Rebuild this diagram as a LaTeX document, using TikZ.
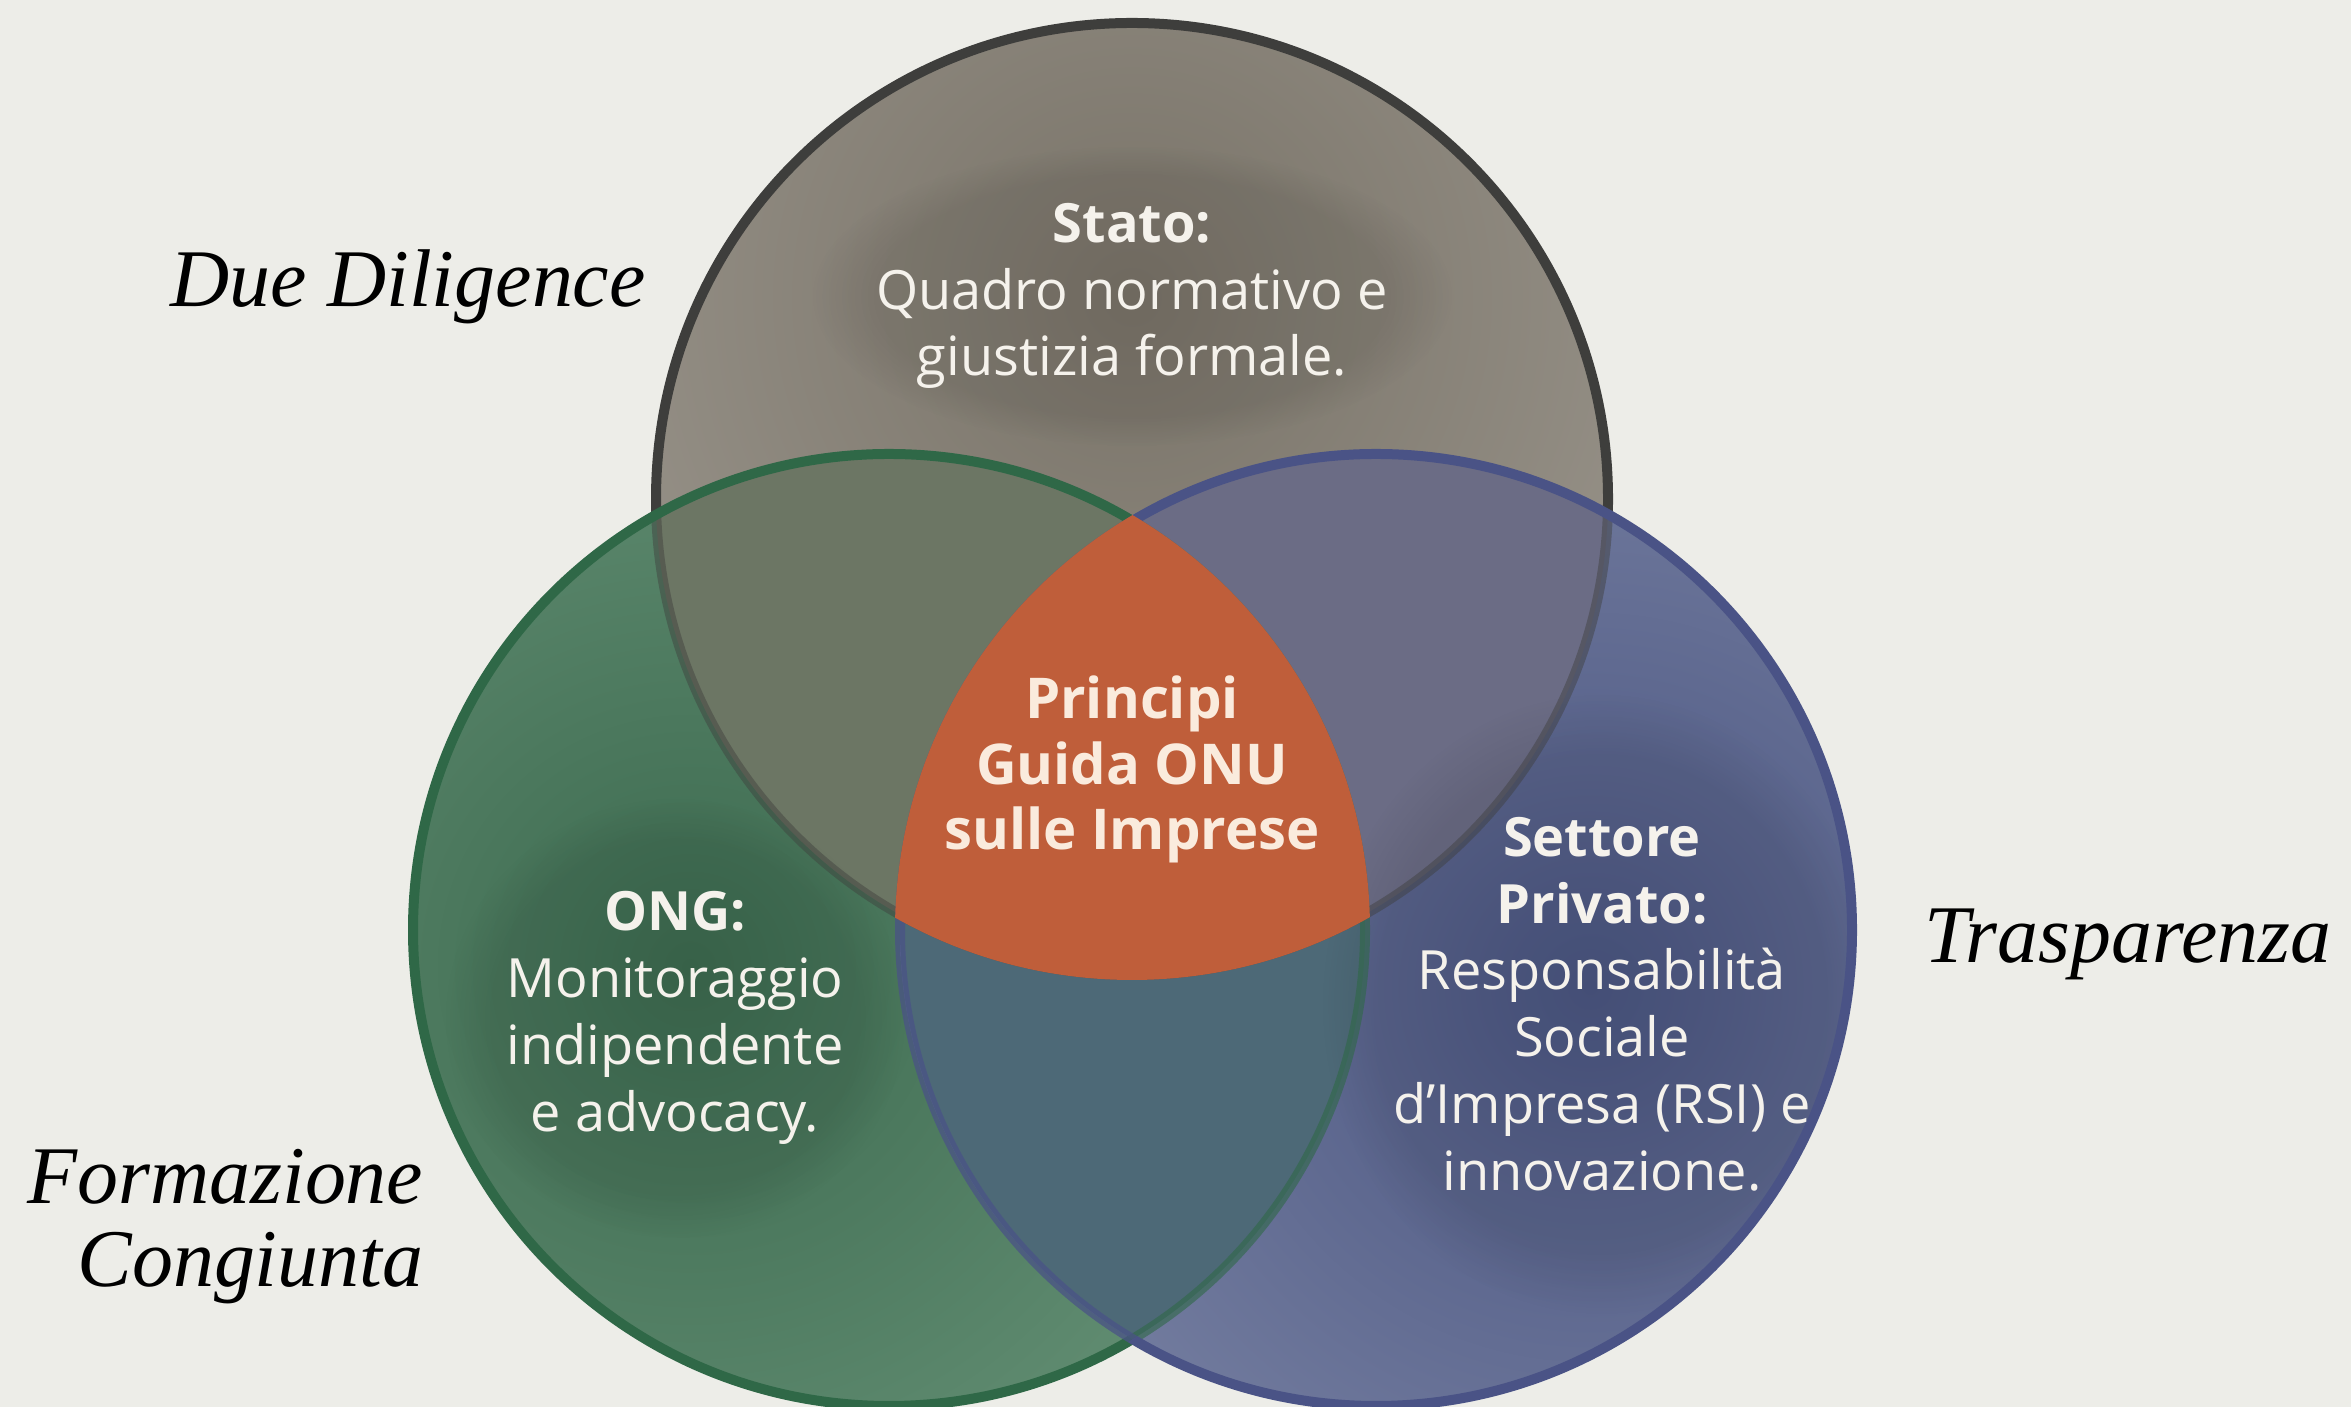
\documentclass[tikz,border=0pt]{standalone}
\usepackage{fontspec}
\usetikzlibrary{fadings}
\setmainfont{Liberation Serif}
\newfontfamily\circfont{Open Sans}
\newfontfamily\labfont{Liberation Serif}
\definecolor{bgc}{HTML}{EDEDE8}
\definecolor{topL}{HTML}{9C978E}
\definecolor{topD}{HTML}{797368}
\definecolor{greL}{HTML}{6A957A}
\definecolor{greD}{HTML}{3C6A4F}
\definecolor{bluL}{HTML}{7D86A6}
\definecolor{bluD}{HTML}{4A5581}
\definecolor{regTL}{HTML}{6C7664}
\definecolor{regTR}{HTML}{6B6C85}
\definecolor{regLR}{HTML}{4D6977}
\definecolor{regC}{HTML}{BF5E3A}
\definecolor{lineT}{HTML}{3E3E3C}
\definecolor{lineG}{HTML}{2F6847}
\definecolor{lineB}{HTML}{4A5386}
\definecolor{txtW}{HTML}{F5F2EC}
\definecolor{txtC}{HTML}{FAEBDD}
\tikzset{
  ring/.style={line width=0.1cm},
  halo/.style={fill=black, fill opacity=0.08, path fading=circle with fuzzy edge 20 percent},
  intext/.style={text=txtW, align=center, font=\circfont\fontsize{15.4}{19}\selectfont, inner sep=0pt},
  centext/.style={text=txtC, align=center, font=\circfont\bfseries\fontsize{16}{18.6}\selectfont, inner sep=0pt},
  sidelabel/.style={text=black, font=\labfont\itshape\fontsize{23.3}{23.6}\selectfont, inner sep=0pt}
}
\begin{document}
\begin{tikzpicture}
\useasboundingbox (0,0) rectangle (23.51,14.07);
\fill[bgc] (0,0) rectangle (23.51,14.07);
\coordinate (T) at (11.32,9.08);
\coordinate (L) at (8.89,4.77);
\coordinate (R) at (13.76,4.77);
\def\rad{4.76}
% base fills with soft vignette
\begin{scope}
  \clip (T) circle (\rad);
  \fill[topL] (T) circle (\rad);
  \shade[inner color=topD, outer color=topL] (11.32,11.1) circle (7);
\end{scope}
\begin{scope}
  \clip (L) circle (\rad);
  \fill[greL] (L) circle (\rad);
  \shade[inner color=greD, outer color=greL] (6.9,4.4) circle (7.5);
\end{scope}
\begin{scope}
  \clip (R) circle (\rad);
  \fill[bluL] (R) circle (\rad);
  \shade[inner color=bluD, outer color=bluL] (15.9,4.2) circle (7.5);
\end{scope}
% pairwise overlaps
\begin{scope}
  \clip (T) circle (\rad);
  \fill[regTL] (L) circle (\rad);
  \fill[regTR] (R) circle (\rad);
\end{scope}
\begin{scope}
  \clip (L) circle (\rad);
  \fill[regLR] (R) circle (\rad);
\end{scope}
% soft dark halo behind the circle texts
\begin{scope}
  \clip (T) circle (\rad);
  \fill[halo] (11.32,11.11) ellipse (3.2 and 1.5);
\end{scope}
\begin{scope}
  \clip (L) circle (\rad);
  \fill[halo] (6.75,3.89) ellipse (2.3 and 2.2);
\end{scope}
\begin{scope}
  \clip (R) circle (\rad);
  \fill[halo] (16.02,4.03) ellipse (2.8 and 3.1);
\end{scope}
% outlines: top ring
\begin{scope}[even odd rule]
  \clip (-1,-1) rectangle (25,15) (L) circle (\rad);
  \clip (-1,-1) rectangle (25,15) (R) circle (\rad);
  \draw[ring, lineT] (T) circle (\rad);
\end{scope}
\begin{scope}
  \clip (L) circle (\rad) (R) circle (\rad);
  \draw[ring, lineT, draw opacity=0.45] (T) circle (\rad);
\end{scope}
% green ring
\begin{scope}[even odd rule]
  \clip (-1,-1) rectangle (25,15) (R) circle (\rad);
  \draw[ring, lineG] (L) circle (\rad);
\end{scope}
\begin{scope}
  \clip (R) circle (\rad);
  \draw[ring, lineG, draw opacity=0.6] (L) circle (\rad);
\end{scope}
% blue ring
\begin{scope}[even odd rule]
  \clip (-1,-1) rectangle (25,15) (L) circle (\rad);
  \draw[ring, lineB] (R) circle (\rad);
\end{scope}
\begin{scope}
  \clip (L) circle (\rad);
  \draw[ring, lineB, draw opacity=0.75] (R) circle (\rad);
\end{scope}
% central region
\begin{scope}
  \clip (T) circle (\rad+0.05);
  \clip (L) circle (\rad+0.05);
  \fill[regC] (R) circle (\rad+0.05);
\end{scope}
% texts
\node[intext] (stato) at (11.32,11.11) {{\bfseries Stato:}\\Quadro normativo e\\giustizia formale.};
\node[centext] (ungp) at (11.32,6.375) {Principi\\Guida ONU\\sulle Imprese};
\node[intext] (ong) at (6.75,3.89) {{\bfseries ONG:}\\Monitoraggio\\indipendente\\e advocacy.};
\node[intext] (privato) at (16.02,4.03) {{\bfseries Settore}\\{\bfseries Privato:}\\Responsabilità\\Sociale\\d’Impresa (RSI) e\\innovazione.};
\node[sidelabel] (dd) at (4.08,11.20) {Due Diligence};
\node[sidelabel, align=right, anchor=east] (fc) at (4.24,1.805) {Formazione\\Congiunta};
\node[sidelabel] (tr) at (21.28,4.63) {Trasparenza};
\end{tikzpicture}
\end{document}
